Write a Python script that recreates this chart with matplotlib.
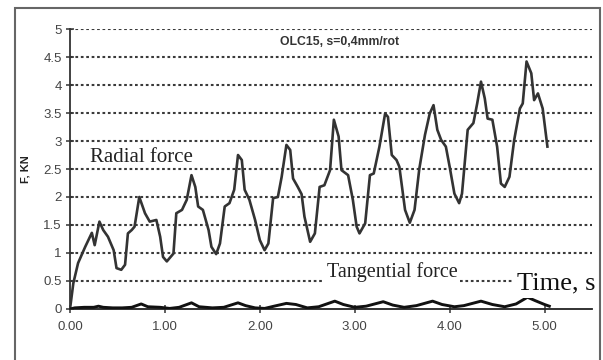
import matplotlib
matplotlib.use("Agg")
import matplotlib.pyplot as plt
from matplotlib.patches import Rectangle

# radial force trace (time s, force kN)
radial_t = [0.0, 0.035, 0.085, 0.16, 0.23, 0.26, 0.31, 0.35, 0.40, 0.46, 0.49, 0.54, 0.58,
            0.61, 0.65, 0.68, 0.73, 0.79, 0.84, 0.91, 0.95, 0.98, 1.02, 1.09, 1.12, 1.18,
            1.23, 1.28, 1.32, 1.35, 1.40, 1.46, 1.49, 1.54, 1.58, 1.63, 1.68, 1.73, 1.77,
            1.81, 1.84, 1.89, 1.95, 2.00, 2.05, 2.09, 2.14, 2.19, 2.23, 2.28, 2.32, 2.35,
            2.40, 2.44, 2.47, 2.53, 2.58, 2.63, 2.68, 2.74, 2.78, 2.83, 2.86, 2.93, 2.98,
            3.02, 3.05, 3.11, 3.16, 3.20, 3.26, 3.32, 3.35, 3.39, 3.44, 3.47, 3.53, 3.58,
            3.63, 3.68, 3.74, 3.79, 3.83, 3.87, 3.91, 3.96, 4.00, 4.05, 4.10, 4.13, 4.19,
            4.25, 4.29, 4.33, 4.37, 4.40, 4.45, 4.50, 4.54, 4.58, 4.63, 4.68, 4.74, 4.77,
            4.81, 4.86, 4.89, 4.93, 4.98, 5.03]
radial_f = [0.0, 0.46, 0.82, 1.11, 1.36, 1.14, 1.56, 1.41, 1.29, 1.05, 0.73, 0.70, 0.79,
            1.35, 1.41, 1.47, 2.00, 1.71, 1.56, 1.59, 1.29, 0.93, 0.85, 0.99, 1.71, 1.77,
            1.95, 2.39, 2.18, 1.83, 1.77, 1.41, 1.11, 0.98, 1.17, 1.83, 1.89, 2.13, 2.75,
            2.66, 2.13, 1.95, 1.59, 1.23, 1.05, 1.17, 1.98, 2.00, 2.36, 2.93, 2.84, 2.33,
            2.18, 2.05, 1.65, 1.20, 1.35, 2.18, 2.21, 2.48, 3.38, 3.08, 2.48, 2.39, 1.95,
            1.47, 1.35, 1.53, 2.39, 2.42, 2.90, 3.49, 3.43, 2.75, 2.66, 2.54, 1.77, 1.54,
            1.77, 2.50, 3.11, 3.49, 3.64, 3.20, 3.02, 2.90, 2.54, 2.06, 1.89, 2.06, 3.20,
            3.32, 3.67, 4.06, 3.76, 3.40, 3.38, 2.90, 2.24, 2.18, 2.36, 3.02, 3.58, 3.67,
            4.42, 4.21, 3.73, 3.85, 3.58, 2.90]

# tangential force trace
tang_t = [0.0, 0.05, 0.15, 0.25, 0.30, 0.35, 0.45, 0.55, 0.65, 0.75, 0.82, 0.95, 1.05,
          1.15, 1.28, 1.36, 1.50, 1.62, 1.77, 1.85, 1.95, 2.05, 2.15, 2.28, 2.38, 2.50,
          2.62, 2.79, 2.88, 3.00, 3.12, 3.30, 3.40, 3.52, 3.65, 3.82, 3.92, 4.05, 4.15,
          4.33, 4.45, 4.58, 4.70, 4.82, 4.90, 5.00, 5.05]
tang_f = [0.0, 0.02, 0.03, 0.03, 0.05, 0.03, 0.02, 0.02, 0.03, 0.09, 0.04, 0.03, 0.01,
          0.03, 0.11, 0.04, 0.02, 0.03, 0.11, 0.06, 0.02, 0.01, 0.05, 0.10, 0.08, 0.02,
          0.04, 0.14, 0.08, 0.03, 0.05, 0.13, 0.07, 0.03, 0.06, 0.14, 0.08, 0.04, 0.06,
          0.14, 0.08, 0.04, 0.09, 0.21, 0.15, 0.08, 0.05]

x_ticks = [0, 1, 2, 3, 4, 5]
x_labels = ["0.00", "1.00", "2.00", "3.00", "4.00", "5.00"]
y_ticks = [0, 0.5, 1, 1.5, 2, 2.5, 3, 3.5, 4, 4.5, 5]
y_labels = ["0", "0.5", "1", "1.5", "2", "2.5", "3", "3.5", "4", "4.5", "5"]

plt.rcParams["font.family"] = ["Liberation Sans", "DejaVu Sans"]

fig = plt.figure(figsize=(6.03, 3.60), dpi=100)
fig.patches.append(Rectangle((0.025, -0.02), 0.97, 0.998, transform=fig.transFigure,
                             fill=False, edgecolor="#666666", linewidth=1.5))
ax = fig.add_axes([0.1161, 0.1417, 0.8657, 0.7777])

for y in y_ticks[1:]:
    ax.axhline(y, color="#3a3a3a", linestyle=(0, (1.3, 1.3)), linewidth=1.5, zorder=1)

ax.plot(radial_t, radial_f, color="#333333", linewidth=1.9, zorder=3,
        solid_joinstyle="round")
ax.plot(tang_t, tang_f, color="#111111", linewidth=2.1, zorder=3,
        solid_joinstyle="round")

ax.set_xlim(0, 5.5)
ax.set_ylim(0, 5)
ax.set_xticks(x_ticks)
ax.set_xticklabels(x_labels)
ax.set_yticks(y_ticks)
ax.set_yticklabels(y_labels)
ax.tick_params(axis="both", direction="inout", length=6, width=1.1, color="#333333",
               labelsize=9.5, labelcolor="#444444")
ax.tick_params(axis="x", pad=6)
ax.tick_params(axis="y", pad=3)

for s in ["top", "right"]:
    ax.spines[s].set_visible(False)
ax.spines["left"].set_color("#333333")
ax.spines["left"].set_linewidth(1.3)
ax.spines["bottom"].set_color("#222222")
ax.spines["bottom"].set_linewidth(1.3)

ax.text(-0.086, 0.50, "F, KN", transform=ax.transAxes, rotation=90, ha="center",
        va="center", fontsize=8, fontweight="bold", color="#222222")
ax.text(2.84, 4.77, "OLC15, s=0,4mm/rot", ha="center", va="center", fontsize=8.8,
        fontweight="bold", color="#333333", zorder=4)
ax.text(0.21, 2.63, "Radial force", ha="left", va="baseline", fontsize=15,
        family="Liberation Serif", color="#222222", zorder=4)
ax.text(2.705, 0.57, "Tangential force", ha="left", va="baseline", fontsize=14.5,
        family="Liberation Serif", color="#222222", zorder=4,
        bbox=dict(facecolor="white", edgecolor="none", pad=2))
ax.text(4.71, 0.34, "Time, s", ha="left", va="baseline", fontsize=19,
        family="Liberation Serif", color="#111111", zorder=4, clip_on=False,
        bbox=dict(facecolor="white", edgecolor="none", pad=2))

fig.savefig("out.png", dpi=100)
